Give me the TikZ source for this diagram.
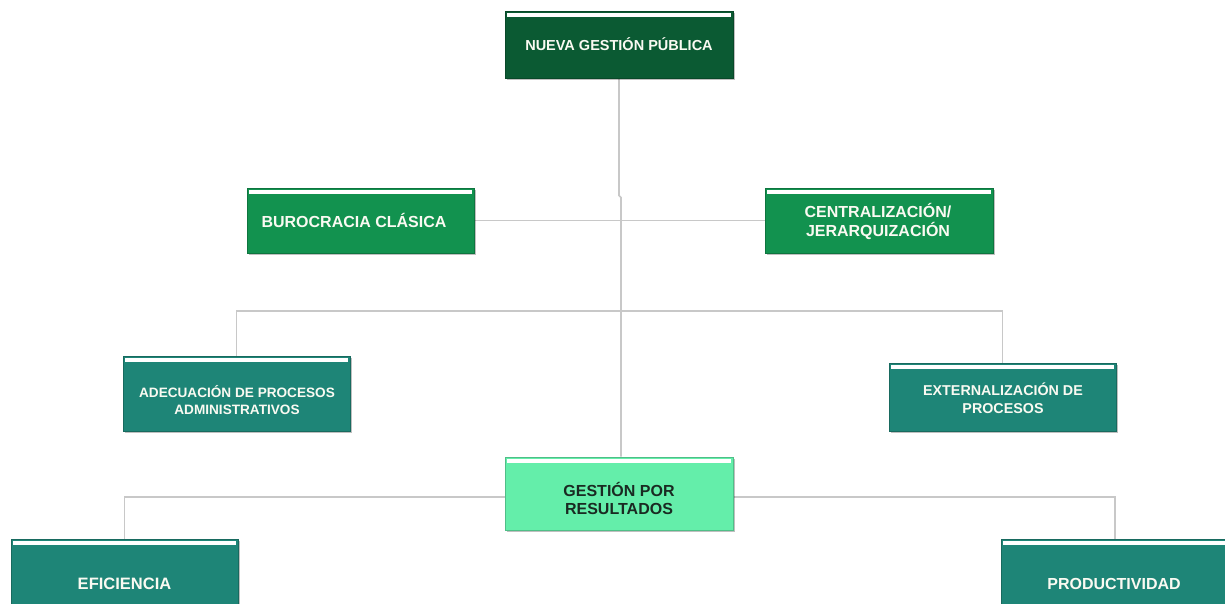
\documentclass[tikz,border=0pt]{standalone}
\usepackage{fontspec}
\setmainfont{Liberation Sans}
\usetikzlibrary{shadows}
\definecolor{ngpgreen}{HTML}{0B5A33}
\definecolor{midgreen}{HTML}{12924F}
\definecolor{tealgreen}{HTML}{1E8577}
\definecolor{mintgreen}{HTML}{64EEAA}
\definecolor{linkgray}{HTML}{C8C8C8}
\definecolor{darktext}{HTML}{1A2A22}
\definecolor{lighttext}{HTML}{FAFAF2}
\pgfdeclarelayer{paper}
\pgfdeclarelayer{links}
\pgfsetlayers{paper,links,main}
\tikzset{
  card/.style={rectangle, inner sep=0pt, fill=#1, draw=#1!80!black, line width=0.8pt,
    drop shadow={shadow xshift=1.5pt, shadow yshift=-2pt, opacity=0.25, fill=black}},
  cardtext/.style={inner sep=0pt, align=center, text=lighttext, font=\bfseries},
  link/.style={draw=linkgray, line width=1.6pt},
}
% white band across the top of a card
\newcommand\cardstripe[1]{%
  \fill[white] ([xshift=2.5pt,yshift=-2.5pt]#1.north west) rectangle ([xshift=-2.5pt,yshift=-6.5pt]#1.north east);}
\begin{document}
\begin{tikzpicture}[x=1pt,y=-1pt]
\useasboundingbox (0,0) rectangle (1225,603);
\begin{pgfonlayer}{paper}
  \fill[white] (0,0) rectangle (1225,603);
\end{pgfonlayer}

% cards
\node[card=ngpgreen, minimum width=228pt, minimum height=67pt] (ngp) at (619,44.5) {};
\node[card=midgreen, minimum width=227pt, minimum height=65pt] (buro) at (360.5,220.5) {};
\node[card=midgreen, minimum width=228pt, minimum height=65pt] (cent) at (879,220.5) {};
\node[card=tealgreen, minimum width=227pt, minimum height=75pt] (adec) at (236.5,393.5) {};
\node[card=tealgreen, minimum width=227pt, minimum height=68pt] (ext) at (1002.5,397) {};
\node[card=mintgreen, minimum width=228pt, minimum height=73pt] (gpr) at (619,493.5) {};
\node[card=tealgreen, minimum width=227pt, minimum height=73pt] (efi) at (124.5,575.5) {};
\node[card=tealgreen, minimum width=228pt, minimum height=73pt] (prod) at (1115,575.5) {};

\foreach \c in {ngp,buro,cent,adec,ext,gpr,efi,prod} {\cardstripe{\c}}

% labels
\node[cardtext, font=\bfseries\fontsize{14.5}{17}\selectfont] (ngp-t) at (619,44) {NUEVA GESTIÓN PÚBLICA};
\node[cardtext, font=\bfseries\fontsize{16}{19}\selectfont] (buro-t) at (354,220) {BUROCRACIA CLÁSICA};
\node[cardtext, font=\bfseries\fontsize{16}{19}\selectfont] (cent-t) at (878,221.5) {CENTRALIZACIÓN/\\JERARQUIZACIÓN};
\node[cardtext, font=\bfseries\fontsize{13.6}{17}\selectfont] (adec-t) at (237,400.5) {ADECUACIÓN DE PROCESOS\\ADMINISTRATIVOS};
\node[cardtext, font=\bfseries\fontsize{14.3}{18}\selectfont] (ext-t) at (1003,398) {EXTERNALIZACIÓN DE\\PROCESOS};
\node[cardtext, text=darktext, font=\bfseries\fontsize{16}{18}\selectfont] (gpr-t) at (619,498) {GESTIÓN POR\\RESULTADOS};
\node[cardtext, font=\bfseries\fontsize{16.5}{19}\selectfont] (efi-t) at (124.5,584) {EFICIENCIA};
\node[cardtext, font=\bfseries\fontsize{16}{19}\selectfont] (prod-t) at (1114,584) {PRODUCTIVIDAD};

% connectors
\begin{pgfonlayer}{links}
  \coordinate (hub) at (621,311);
  \coordinate (fork) at (621,497);
  \draw[link] (ngp.south) -- ++(0,117) -- ++(2,2) -- ([xshift=2pt]gpr.north);
  \draw[link] (buro.east) -- (cent.west);
  \draw[link] (hub) -| (adec.north);
  \draw[link] (hub) -| (ext.north);
  \draw[link] (fork) -| (efi.north);
  \draw[link] (fork) -| (prod.north);
\end{pgfonlayer}
\end{tikzpicture}
\end{document}
